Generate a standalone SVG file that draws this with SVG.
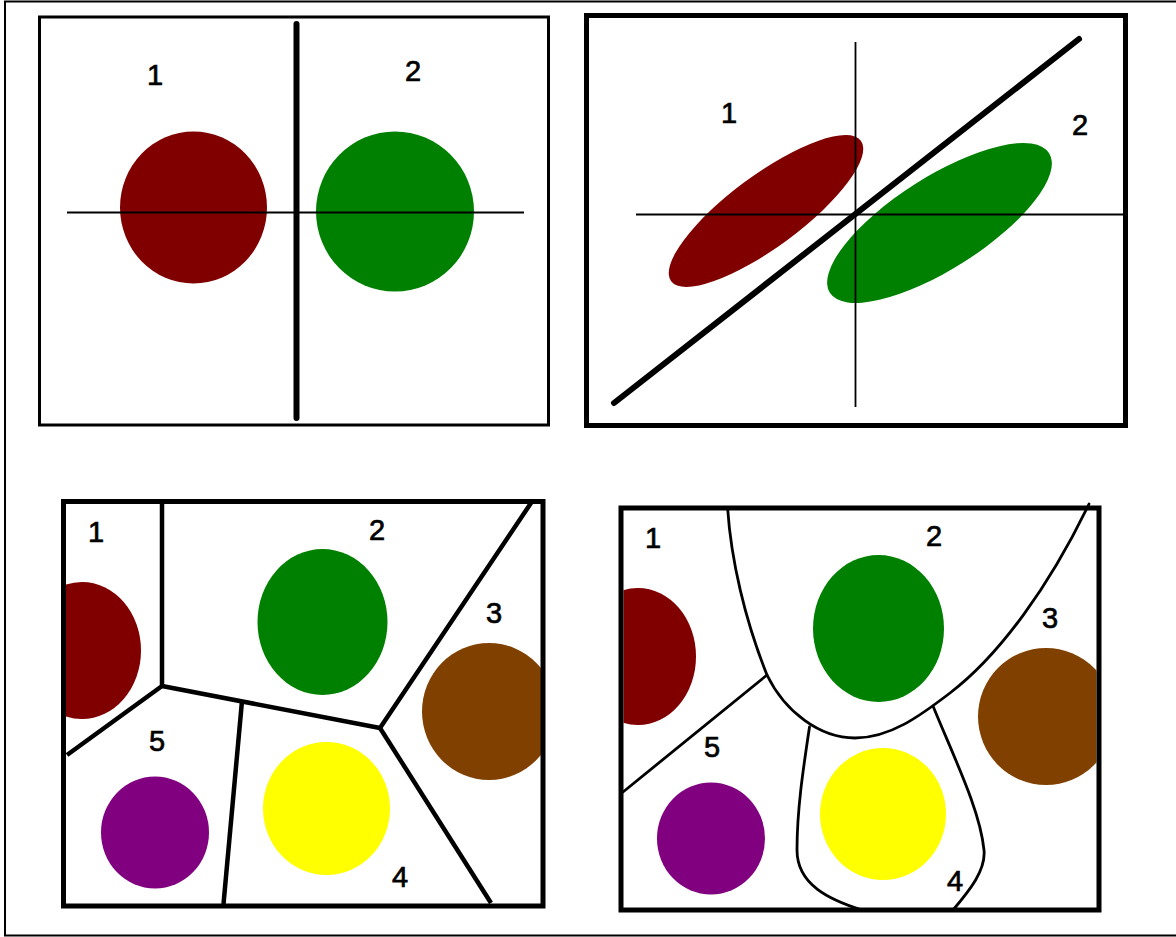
<svg xmlns="http://www.w3.org/2000/svg" width="1176" height="937" viewBox="0 0 1176 937">
  <style>
    .lbl { font-family: "Liberation Sans", Arial, sans-serif; font-size: 29px; fill: #000; stroke: #000; stroke-width: 0.7; text-anchor: middle; }
    .frame { fill: none; stroke: #000; }
    .thin { stroke: #000; stroke-width: 1.8; fill: none; }
    .thick { stroke: #000; stroke-width: 6; stroke-linecap: round; fill: none; }
    .bnd { stroke: #000; stroke-width: 4.5; stroke-linecap: butt; stroke-linejoin: round; fill: none; }
    .crv { stroke: #000; stroke-width: 2.8; stroke-linecap: round; stroke-linejoin: round; fill: none; }
    .red { fill: #800000; }
    .green { fill: #008000; }
    .brown { fill: #804000; }
    .yellow { fill: #FFFF00; }
    .purple { fill: #800080; }
  </style>
  <defs>
    <clipPath id="clip3"><rect x="66" y="504" width="475" height="400"/></clipPath>
    <clipPath id="clip4"><rect x="623.5" y="510.5" width="473" height="397"/></clipPath>
  </defs>
  <rect width="1176" height="937" fill="#fff"/>
  <!-- outer frame (right edge off-canvas) -->
  <rect class="frame" x="5" y="1.5" width="1185" height="934" stroke-width="2"/>

  <!-- Panel 1 -->
  <g id="panel1">
    <rect class="frame" x="39.5" y="17" width="509" height="408" stroke-width="3"/>
    <ellipse id="p1-c1" class="red" cx="193.5" cy="207.5" rx="73.5" ry="76"/>
    <ellipse id="p1-c2" class="green" cx="395" cy="211.5" rx="79" ry="80"/>
    <g id="p1-lines">
      <line class="thin" x1="67" y1="212.5" x2="524" y2="212.5"/>
      <line class="thick" x1="296.5" y1="24" x2="296.5" y2="418" stroke-width="5.5"/>
    </g>
    <text class="lbl" x="155" y="85">1</text>
    <text class="lbl" x="413" y="81">2</text>
  </g>

  <!-- Panel 2 -->
  <g id="panel2">
    <rect class="frame" x="586.5" y="15.5" width="539" height="410" stroke-width="5"/>
    <ellipse id="p2-c1" class="red" cx="766" cy="211" rx="118" ry="36" transform="rotate(-36.5 766 211)"/>
    <ellipse id="p2-c2" class="green" cx="939.5" cy="223" rx="130" ry="46" transform="rotate(-32.5 939.5 223)"/>
    <g id="p2-lines">
      <line class="thin" x1="636" y1="214.5" x2="1125" y2="214.5" stroke-width="1.9"/>
      <line class="thin" x1="855.5" y1="42" x2="855.5" y2="407" stroke-width="2.2"/>
      <line class="thick" x1="614" y1="403" x2="1079" y2="39" stroke-width="6.5"/>
    </g>
    <text class="lbl" x="729" y="123">1</text>
    <text class="lbl" x="1080" y="135">2</text>
  </g>

  <!-- Panel 3 -->
  <g id="panel3">
    <g clip-path="url(#clip3)">
      <ellipse id="p3-c1" class="red" cx="82" cy="650.5" rx="59" ry="68.5"/>
      <ellipse id="p3-c3" class="brown" cx="489" cy="711.5" rx="67" ry="68.5"/>
    </g>
    <ellipse id="p3-c2" class="green" cx="322.5" cy="622" rx="65" ry="73"/>
    <ellipse id="p3-c4" class="yellow" cx="326.5" cy="808.5" rx="63.5" ry="66.5"/>
    <ellipse id="p3-c5" class="purple" cx="155" cy="832.5" rx="54" ry="56"/>
    <g id="p3-lines">
      <polyline class="bnd" points="162,503 162,686 67,755"/>
      <polyline class="bnd" points="162,686 380,728 533,500"/>
      <line class="bnd" x1="242" y1="701" x2="223.5" y2="904"/>
      <line class="bnd" x1="380" y1="728" x2="491" y2="903"/>
    </g>
    <rect class="frame" x="63.5" y="501.5" width="479.5" height="404.5" stroke-width="5"/>
    <text class="lbl" x="96" y="542">1</text>
    <text class="lbl" x="377" y="540">2</text>
    <text class="lbl" x="494" y="623">3</text>
    <text class="lbl" x="157" y="751">5</text>
    <text class="lbl" x="400" y="887">4</text>
  </g>

  <!-- Panel 4 -->
  <g id="panel4">
    <g clip-path="url(#clip4)">
      <ellipse id="p4-c1" class="red" cx="638" cy="656.5" rx="58" ry="68.5"/>
      <ellipse id="p4-c3" class="brown" cx="1046" cy="716.5" rx="68" ry="68.5"/>
    </g>
    <ellipse id="p4-c2" class="green" cx="878.5" cy="628.5" rx="65.5" ry="73.5"/>
    <ellipse id="p4-c4" class="yellow" cx="883" cy="814" rx="63" ry="66"/>
    <ellipse id="p4-c5" class="purple" cx="711" cy="838.5" rx="54" ry="56"/>
    <g id="p4-lines">
      <path class="crv" d="M727.6,508 C731,560 745,620 767,675 C785,712 820,738 855,738 C890,738 920,716 950,693 C1000,655 1050,585 1089,504"/>
      <line class="crv" x1="767" y1="675" x2="623" y2="792"/>
      <path class="crv" d="M809.5,727 C803,770 797,810 797,850 C797,885 830,900 862,910"/>
      <path class="crv" d="M933,706 C955,760 980,810 984,850 C986,870 970,890 953,910"/>
    </g>
    <rect class="frame" x="621" y="508" width="478" height="402" stroke-width="5"/>
    <text class="lbl" x="653" y="548">1</text>
    <text class="lbl" x="934" y="546">2</text>
    <text class="lbl" x="1050" y="628">3</text>
    <text class="lbl" x="712" y="757">5</text>
    <text class="lbl" x="955" y="891">4</text>
  </g>
</svg>
